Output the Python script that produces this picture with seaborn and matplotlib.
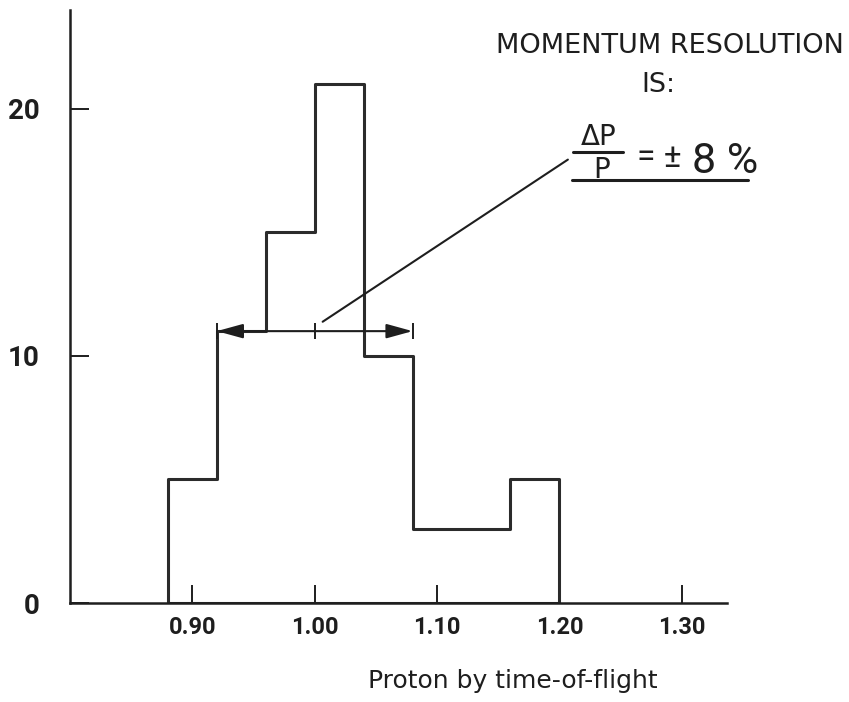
import matplotlib
matplotlib.use("Agg")
import matplotlib.pyplot as plt
import pandas as pd
import seaborn as sns

# Histogram of reconstructed proton momentum (time-of-flight method)
bin_edges = [0.88, 0.92, 0.96, 1.00, 1.04, 1.08, 1.12, 1.16, 1.20]
counts = [5, 11, 15, 21, 10, 3, 3, 5]

x_ticks = [0.90, 1.00, 1.10, 1.20, 1.30]
x_tick_labels = ["0.90", "1.00", "1.10", "1.20", "1.30"]
y_ticks = [0, 10, 20]
y_tick_labels = ["0", "10", "20"]
x_label = "Proton by time-of-flight"

# Width marker drawn across the distribution
width_low, width_high, width_level = 0.92, 1.08, 11
width_center = 1.00

title_lines = ["MOMENTUM RESOLUTION", "IS:"]

sns.set_theme(style="white")
plt.rcParams["font.family"] = ["DejaVu Sans"]

ink = "#1e1e1e"
digits = ["Roboto", "DejaVu Sans"]

centers = [(a + b) / 2 for a, b in zip(bin_edges[:-1], bin_edges[1:])]
df = pd.DataFrame({"momentum": centers, "entries": counts})

fig = plt.figure(figsize=(8.49, 7.02), dpi=100)
ax = fig.add_axes([0.0824, 0.141, 0.774, 0.845])

sns.histplot(
    data=df, x="momentum", weights="entries", bins=bin_edges,
    element="step", fill=True, color="#2b2b2b", facecolor="none",
    edgecolor="#2b2b2b", linewidth=2.2, alpha=1, ax=ax,
)

ax.set_xlim(0.80, 1.337)
ax.set_ylim(0, 24)
ax.set_xlabel("")
ax.set_ylabel("")

for side in ["top", "right"]:
    ax.spines[side].set_visible(False)
for side in ["left", "bottom"]:
    ax.spines[side].set_color(ink)
    ax.spines[side].set_linewidth(1.8)

ax.set_xticks(x_ticks)
ax.set_xticklabels(x_tick_labels, family=digits, fontstretch="condensed",
                   fontweight="bold", fontsize=17, color=ink)
ax.set_yticks(y_ticks)
ax.set_yticklabels(y_tick_labels, family=digits, fontstretch="condensed",
                   fontweight="bold", fontsize=20, color=ink)
ax.tick_params(axis="x", bottom=True, direction="in", length=13, width=1.4,
               color=ink, pad=9)
ax.tick_params(axis="y", left=True, direction="in", length=14, width=1.4,
               color=ink, pad=22)

fig.text(0.604, 1 - 688 / 702, x_label, ha="center", va="baseline",
         fontsize=18, color=ink)

# Double arrow marking the width of the peak
ax.annotate(
    "", xy=(width_low, width_level), xytext=(width_high, width_level),
    arrowprops=dict(arrowstyle="<|-|>,head_length=0.8,head_width=0.22",
                    lw=1.5, color=ink, mutation_scale=20,
                    shrinkA=0, shrinkB=0),
)
ax.vlines([width_low, width_center, width_high],
          width_level - 0.32, width_level + 0.32, color=ink, lw=1.4)

# Leader line from the arrow to the note
ax.plot([1.0065, 1.2069], [11.38, 17.94], color=ink, lw=1.5, clip_on=False)

ax.text(1.2903, 22.55, title_lines[0], ha="center", va="center",
        fontsize=19.5, color=ink)
ax.text(1.2805, 20.95, title_lines[1], ha="center", va="center",
        fontsize=19.5, color=ink)

# Relative resolution written as a fraction
ax.text(1.2322, 18.54, "ΔP", ha="center", va="baseline",
        fontsize=20, color=ink)
ax.plot([1.2110, 1.2518], [18.26, 18.26], color=ink, lw=2.2, clip_on=False)
ax.text(1.2347, 17.21, "P", ha="center", va="baseline",
        fontsize=20, color=ink)
ax.text(1.2633, 17.65, "= ±", ha="left", va="baseline",
        family=digits, fontsize=24, color=ink)
ax.text(1.3085, 17.41, "8 %", ha="left", va="baseline",
        family=digits, fontsize=31, color=ink)
ax.plot([1.2101, 1.354], [17.13, 17.13], color=ink, lw=2.2, clip_on=False)

fig.savefig("out.png", dpi=100, facecolor="white")
